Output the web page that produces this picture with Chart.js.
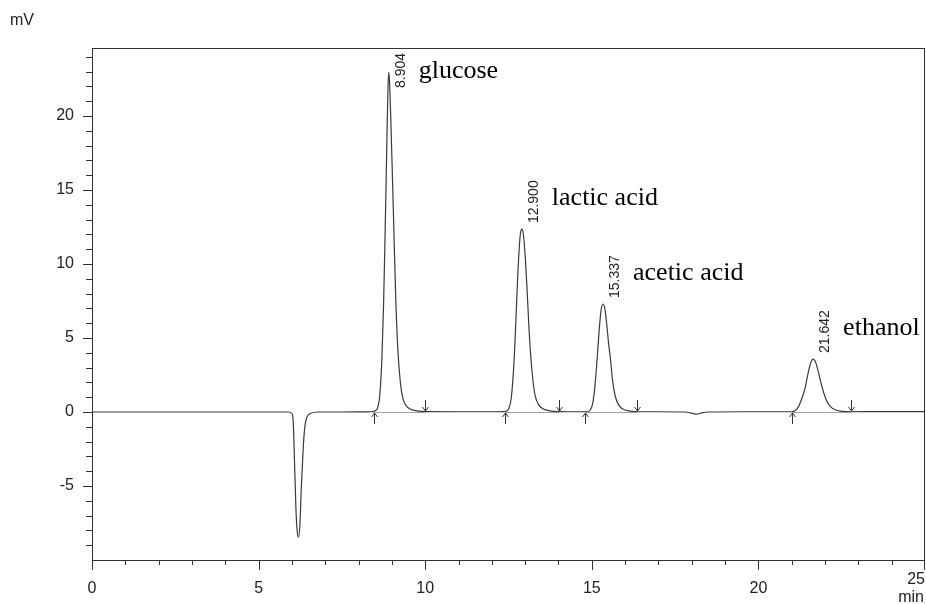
<!DOCTYPE html>
<html>
<head>
<meta charset="utf-8">
<script src="https://cdn.jsdelivr.net/npm/chart.js@4.4.1/dist/chart.umd.min.js"></script>
<style>
  body { margin: 0; background: #fff; }
  canvas { display: block; }
</style>
</head>
<body>
<canvas id="chrom" width="926" height="604"></canvas>
<script>
// retention time (min) and detector signal (mV)
var times = [
  0, 2.0, 4.0, 5.9, 6.00, 6.04, 6.08, 6.12, 6.16, 6.20, 6.24, 6.28, 6.31, 6.35, 6.40, 6.46, 6.55, 6.8,
  7.5, 8.2, 8.40, 8.50, 8.58, 8.64, 8.70, 8.75, 8.80, 8.85, 8.88, 8.904, 8.93, 8.97, 9.02, 9.07, 9.12,
  9.18, 9.25, 9.32, 9.42, 9.55, 9.75, 10.0, 11.0, 12.0,
  12.40, 12.50, 12.58, 12.65, 12.70, 12.76, 12.82, 12.86, 12.90, 12.94, 12.99, 13.05, 13.10, 13.16,
  13.23, 13.30, 13.40, 13.55, 13.75, 14.0, 14.5,
  14.85, 14.95, 15.03, 15.10, 15.16, 15.22, 15.28, 15.337, 15.39, 15.45, 15.51, 15.56, 15.62, 15.70,
  15.80, 15.95, 16.15, 16.4, 17.0, 17.8, 18.0, 18.15, 18.3, 18.5, 19.5, 20.5,
  21.00, 21.10, 21.20, 21.30, 21.40, 21.48, 21.56, 21.642, 21.72, 21.80, 21.88, 21.96, 22.05, 22.15,
  22.30, 22.50, 22.8, 23.5, 24.3, 25
];
var signal = [
  0, 0, 0, 0, -0.1, -0.7, -3.5, -6.5, -8.1, -8.45, -7.6, -5.2, -3.8, -2.0, -0.8, -0.3, -0.1, 0,
  0, 0.01, 0.02, 0.08, 0.35, 1.2, 3.6, 7.2, 12.4, 18.3, 21.6, 22.95, 22.3, 19.6, 15.6, 11.4, 7.4,
  4.2, 2.1, 1.0, 0.45, 0.2, 0.08, 0.03, 0.02, 0.02,
  0.03, 0.2, 0.9, 2.8, 5.0, 8.3, 11.0, 12.1, 12.36, 12.1, 10.9, 8.6, 6.3, 4.0,
  2.2, 1.1, 0.5, 0.2, 0.08, 0.03, 0.02,
  0.02, 0.12, 0.6, 1.9, 3.6, 5.5, 6.9, 7.3, 7.0, 5.9, 4.5, 3.6, 2.2, 1.1,
  0.5, 0.18, 0.06, 0.02, 0.02, 0, -0.08, -0.14, -0.06, 0, 0.02, 0.02,
  0.02, 0.1, 0.35, 0.9, 1.6, 2.5, 3.25, 3.58, 3.35, 2.7, 1.95, 1.3, 0.75, 0.4,
  0.15, 0.05, 0.02, 0.03, 0.03, 0.03
];

var peakTimes = [8.904, 12.900, 15.337, 21.642];
var peakLabels = ['8.904', '12.900', '15.337', '21.642'];
var compoundNames = ['glucose', 'lactic acid', 'acetic acid', 'ethanol'];

// integration marks: peak start (up arrow) and end (down arrow)
var peakStarts = [8.45, 12.40, 14.80, 21.00];
var peakEnds = [10.0, 14.02, 16.37, 22.79];

var xTicks = [0, 5, 10, 15, 20, 25];
var yTicks = [-5, 0, 5, 10, 15, 20];

var sansFont = '"Liberation Sans", Arial, sans-serif';
var serifFont = '"Liberation Serif", "Times New Roman", serif';

var points = [];
for (var i = 0; i < times.length; i++) {
  points.push({x: times[i], y: signal[i]});
}

function signalAt(t) {
  var idx = times.indexOf(t);
  return idx >= 0 ? signal[idx] : 0;
}

var decorPlugin = {
  id: 'decor',
  afterDraw: function(chart) {
    var ctx = chart.ctx;
    var area = chart.chartArea;
    var xs = chart.scales.x;
    var ys = chart.scales.y;
    var y0 = ys.getPixelForValue(0);

    ctx.save();
    // frame
    ctx.strokeStyle = '#333';
    ctx.lineWidth = 1;
    ctx.strokeRect(Math.round(area.left) + 0.5, Math.round(area.top) + 0.5,
      Math.round(area.right - area.left) - 1, Math.round(area.bottom - area.top));

    // y ticks
    ctx.beginPath();
    for (var v = -9; v <= 24; v++) {
      var py = Math.round(ys.getPixelForValue(v)) + 0.5;
      var len = (v % 5 === 0) ? 9 : 6;
      ctx.moveTo(area.left - len, py);
      ctx.lineTo(area.left, py);
    }
    // x ticks
    for (var t = 0; t <= 25; t++) {
      var px = Math.round(xs.getPixelForValue(t)) + 0.5;
      if (t === 25) px -= 1;
      var tl = (t % 5 === 0) ? 10 : 5;
      ctx.moveTo(px, area.bottom);
      ctx.lineTo(px, area.bottom + tl);
    }
    ctx.stroke();

    // integration baselines
    ctx.strokeStyle = '#a0a0a0';
    ctx.beginPath();
    for (var k = 0; k < peakStarts.length; k++) {
      ctx.moveTo(xs.getPixelForValue(peakStarts[k]), y0 + 0.5);
      ctx.lineTo(xs.getPixelForValue(peakEnds[k]), y0 + 0.5);
    }
    ctx.stroke();

    // arrows
    ctx.strokeStyle = '#333';
    ctx.beginPath();
    for (var a = 0; a < peakStarts.length; a++) {
      var ax = Math.round(xs.getPixelForValue(peakStarts[a])) + 0.5;
      ctx.moveTo(ax, y0 + 12);
      ctx.lineTo(ax, y0 + 1);
      ctx.moveTo(ax - 3, y0 + 5);
      ctx.lineTo(ax, y0 + 1);
      ctx.lineTo(ax + 3, y0 + 5);
      var bx = Math.round(xs.getPixelForValue(peakEnds[a])) + 0.5;
      ctx.moveTo(bx, y0 - 12);
      ctx.lineTo(bx, y0 - 1);
      ctx.moveTo(bx - 3, y0 - 5);
      ctx.lineTo(bx, y0 - 1);
      ctx.lineTo(bx + 3, y0 - 5);
    }
    ctx.stroke();

    // peak retention times (rotated) and compound names
    for (var p = 0; p < peakTimes.length; p++) {
      var peakX = xs.getPixelForValue(peakTimes[p]);
      var peakY = ys.getPixelForValue(signalAt(peakTimes[p]));

      ctx.font = '14px ' + sansFont;
      var w = ctx.measureText(peakLabels[p]).width;
      var startY = peakY - 6;
      if (startY - w < area.top + 5) startY = area.top + 5 + w;
      ctx.save();
      ctx.translate(peakX + 12.5, startY);
      ctx.rotate(-Math.PI / 2);
      ctx.fillStyle = '#222';
      ctx.textAlign = 'left';
      ctx.textBaseline = 'middle';
      ctx.fillText(peakLabels[p], 0, 0);
      ctx.restore();

      var nameY = Math.max(peakY - 24, area.top + 30);
      ctx.font = '26px ' + serifFont;
      ctx.fillStyle = '#000';
      ctx.textAlign = 'left';
      ctx.textBaseline = 'alphabetic';
      ctx.fillText(compoundNames[p], peakX + 30, nameY);
    }

    // axis units and the last x label
    ctx.font = '16px ' + sansFont;
    ctx.fillStyle = '#222';
    ctx.textBaseline = 'middle';
    ctx.textAlign = 'left';
    ctx.fillText('mV', 10, 21);
    ctx.textAlign = 'right';
    ctx.fillText('min', area.right - 1, 598);
    ctx.fillText(String(xTicks[xTicks.length - 1]), area.right, 580);
    ctx.restore();
  }
};

new Chart(document.getElementById('chrom'), {
  type: 'line',
  data: {
    datasets: [{
      data: points,
      borderColor: '#3a3a3a',
      borderWidth: 1.2,
      pointRadius: 0,
      fill: false,
      cubicInterpolationMode: 'monotone'
    }]
  },
  options: {
    responsive: false,
    animation: false,
    layout: {padding: {top: 48, right: 1, left: 0, bottom: 0}},
    plugins: {legend: {display: false}, tooltip: {enabled: false}},
    scales: {
      x: {
        type: 'linear',
        min: 0,
        max: 25,
        grid: {display: false},
        border: {display: false},
        ticks: {
          stepSize: 1,
          autoSkip: false,
          maxRotation: 0,
          padding: 11,
          color: '#222',
          font: {family: sansFont, size: 16},
          callback: function(v) {
            return (xTicks.indexOf(v) >= 0 && v !== xTicks[xTicks.length - 1]) ? String(v) : '';
          }
        },
        afterFit: function(s) {
          s.height = 44;
          s.paddingLeft = 0;
          s.paddingRight = 0;
        }
      },
      y: {
        min: -10,
        max: 24.6,
        grid: {display: false},
        border: {display: false},
        ticks: {
          stepSize: 1,
          autoSkip: false,
          padding: 10,
          color: '#222',
          font: {family: sansFont, size: 16},
          callback: function(v) {
            return yTicks.indexOf(v) >= 0 ? String(v) : '';
          }
        },
        afterFit: function(s) {
          s.width = 92;
        }
      }
    }
  },
  plugins: [decorPlugin]
});
</script>
</body>
</html>
